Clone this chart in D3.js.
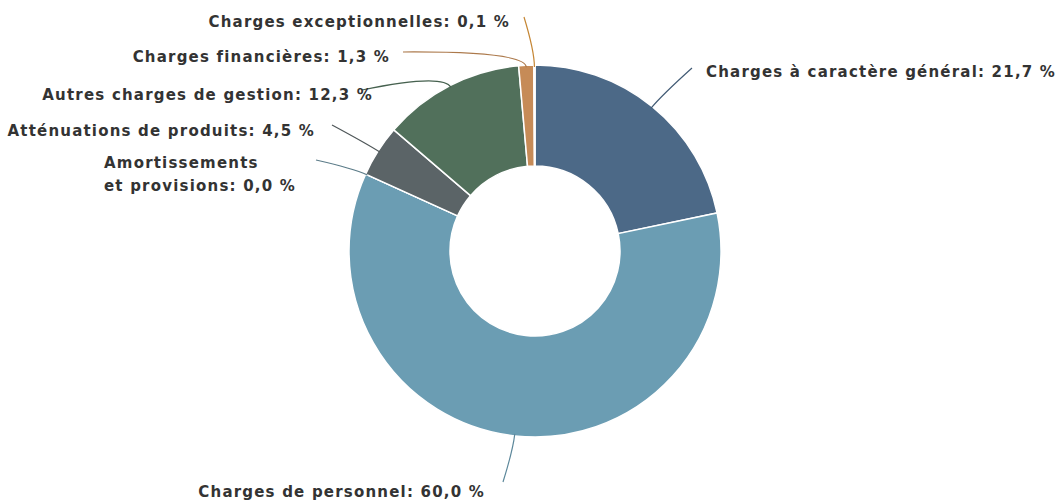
<!DOCTYPE html>
<html>
<head>
<meta charset="utf-8">
<script src="https://cdn.jsdelivr.net/npm/d3@7"></script>
<style>
  body{margin:0;background:#fff;}
  text{font-family:"DejaVu Sans",Verdana,sans-serif;font-weight:bold;fill:#333;}
</style>
</head>
<body>
<script>
// data
var categories=["Charges à caractère général","Charges de personnel","Amortissements et provisions","Atténuations de produits","Autres charges de gestion","Charges financières","Charges exceptionnelles"]
var values=[21.7,60.0,0.0,4.5,12.3,1.3,0.1]
var colors=["#4c6987","#6b9db3","#6a8f9e","#5b6467","#51705b","#c68b57","#e39a3c"]

// label layout (anchor, x, y of first line, connector end)
var labelLayout=[
  {anchor:"start",x:706,y:77,ex:692,ey:68},
  {anchor:"end",x:485,y:497,ex:503,ey:482},
  {anchor:"start",x:104,y:168,ex:316,ey:160,lines:["Amortissements","et provisions: 0,0 %"]},
  {anchor:"end",x:315,y:136,ex:332,ey:125},
  {anchor:"end",x:373,y:100,ex:362,ey:90},
  {anchor:"end",x:390,y:62,ex:403,ey:52},
  {anchor:"end",x:510,y:27,ex:524,ey:17}
]

var width=1062,height=500
var cx=535,cy=251,outerR=186,innerR=85

var svg=d3.select("body").append("svg").attr("width",width).attr("height",height)
var g=svg.append("g").attr("transform","translate("+cx+","+cy+")")

var pie=d3.pie().sort(null).value(function(d){return d})
var arcs=pie(values)
var arc=d3.arc().innerRadius(innerR).outerRadius(outerR)

g.selectAll("path.slice")
 .data(arcs)
 .enter()
 .append("path")
 .attr("class","slice")
 .attr("d",arc)
 .attr("fill",function(d,i){return colors[i]})
 .attr("stroke","#fff")
 .attr("stroke-width",1.5)

var fmt=function(v){return v.toFixed(1).replace(".",",")+" %"}

// connectors
svg.append("g").selectAll("path")
   .data(arcs)
   .enter()
   .append("path")
   .attr("d",function(d,i){
     var a=(d.startAngle+d.endAngle)/2
     var sx=cx+Math.sin(a)*(outerR-2), sy=cy-Math.cos(a)*(outerR-2)
     var L=labelLayout[i]
     var mx=cx+Math.sin(a)*(outerR+14), my=cy-Math.cos(a)*(outerR+14)
     return "M"+sx+","+sy+" Q"+mx+","+my+" "+L.ex+","+L.ey
   })
   .attr("fill","none")
   .attr("stroke",function(d,i){return d3.color(colors[i]).darker(0.4)})
   .attr("stroke-width",1.2)

// labels
var labels=svg.append("g").selectAll("text")
   .data(arcs)
   .enter()
   .append("text")
   .attr("x",function(d,i){return labelLayout[i].x})
   .attr("y",function(d,i){return labelLayout[i].y})
   .attr("text-anchor",function(d,i){return labelLayout[i].anchor})
   .style("font-size","15px")
   .style("letter-spacing","1.2px")
labels.each(function(d,i){
  var L=labelLayout[i]
  var t=d3.select(this)
  if(L.lines){
    L.lines.forEach(function(s,j){
      t.append("tspan").attr("x",L.x).attr("dy",j==0?0:23).text(s)
    })
  } else {
    t.text(categories[i]+": "+fmt(values[i]))
  }
})
</script>
</body>
</html>
